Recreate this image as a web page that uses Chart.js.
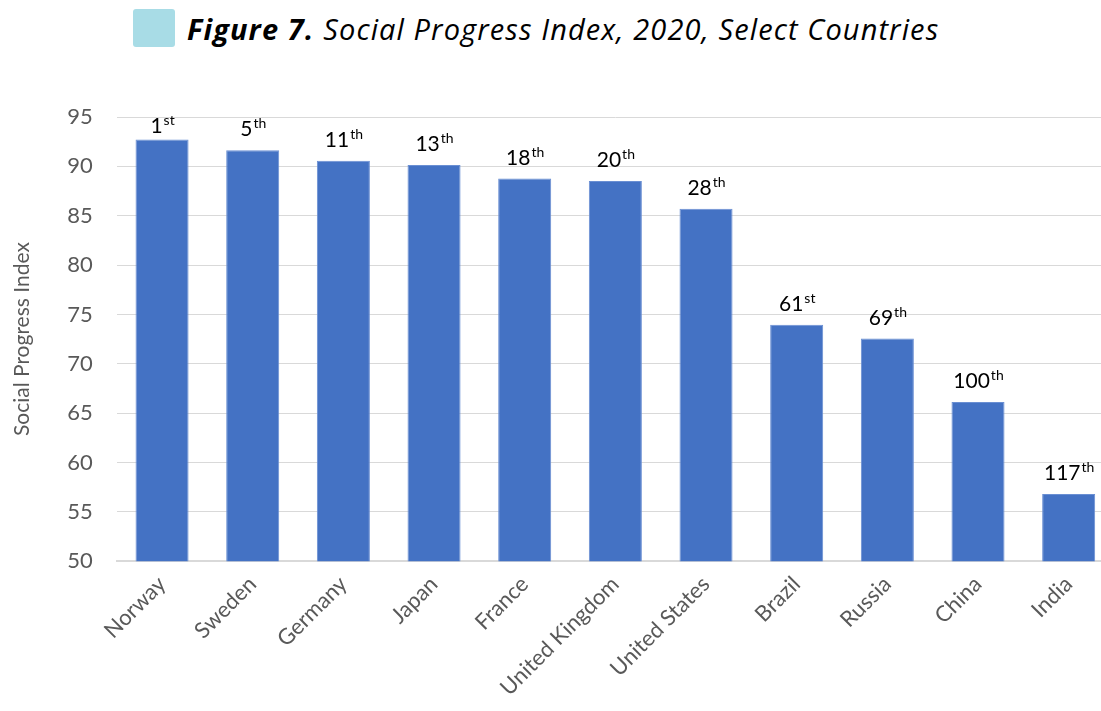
<!DOCTYPE html>
<html>
<head>
<meta charset="utf-8">
<script src="https://cdn.jsdelivr.net/npm/chart.js@4"></script>
<style>
  html, body { margin: 0; padding: 0; background: #fff; overflow: hidden; }
  #wrap { position: relative; width: 1114px; height: 711px; }
  #title { position: absolute; left: 133px; top: 9px; height: 38px; display: flex; align-items: center;
           font-family: "Open Sans", sans-serif; font-style: italic; font-size: 29px; letter-spacing: 1.1px; color: #000; white-space: nowrap; }
  #title .box { display: inline-block; width: 42px; height: 38px; background: #a8dce6; border-radius: 3px; margin-right: 12px; }
  #title b { font-weight: 700; margin-right: 9px; }
  canvas { position: absolute; left: 0; top: 0; }
</style>
</head>
<body>
<div id="wrap">
  <div id="title"><span class="box"></span><b>Figure 7.</b>Social Progress Index, 2020, Select Countries</div>
  <canvas id="spiChart" width="1114" height="711"></canvas>
</div>
<script>
//data
const countries = ['Norway', 'Sweden', 'Germany', 'Japan', 'France', 'United Kingdom', 'United States', 'Brazil', 'Russia', 'China', 'India']
const scores = [92.73, 91.62, 90.56, 90.14, 88.76, 88.52, 85.71, 73.95, 72.56, 66.12, 56.80]
const rankNumbers = ['1', '5', '11', '13', '18', '20', '28', '61', '69', '100', '117']
const rankSuffixes = ['st', 'th', 'th', 'th', 'th', 'th', 'th', 'st', 'th', 'th', 'th']
const yTicks = [50, 55, 60, 65, 70, 75, 80, 85, 90, 95]

const labelFont = 'Lato, "Open Sans", sans-serif'

//rank labels with superscript suffix
const rankLabels = {
    id: 'rankLabels',
    afterDatasetsDraw(chart) {
        const ctx = chart.ctx
        const meta = chart.getDatasetMeta(0)
        ctx.save()
        ctx.fillStyle = '#000'
        ctx.textBaseline = 'alphabetic'
        meta.data.forEach((bar, i) => {
            const num = rankNumbers[i], suf = rankSuffixes[i]
            ctx.font = '21px ' + labelFont
            const wn = ctx.measureText(num).width
            ctx.font = '14px ' + labelFont
            const ws = ctx.measureText(suf).width
            const x0 = bar.x - (wn + ws) / 2
            // keep the top label inside the chart
            const base = Math.max(bar.y - 14, 133)
            ctx.font = '21px ' + labelFont
            ctx.textAlign = 'left'
            ctx.fillText(num, x0, base)
            ctx.font = '14px ' + labelFont
            ctx.fillText(suf, x0 + wn + 1, base - 8)
        })
        ctx.restore()
    }
}

//configure chart
const config = {
    type: 'bar',
    data: {
        labels: countries,
        datasets: [{
            data: scores,
            backgroundColor: '#4472c4',
            borderColor: '#6a8fd3',
            borderWidth: 1,
            categoryPercentage: 1,
            barPercentage: 0.585
        }]
    },
    options: {
        responsive: false,
        animation: false,
        layout: { padding: { top: 117, left: 10, right: 0, bottom: 0 } },
        plugins: {
            legend: { display: false },
            tooltip: { enabled: false }
        },
        scales: {
            x: {
                grid: { display: false, drawTicks: false },
                border: { color: '#d9d9d9', width: 2 },
                ticks: {
                    color: '#595959',
                    font: { family: labelFont, size: 22 },
                    minRotation: 45,
                    maxRotation: 45,
                    padding: 10
                }
            },
            y: {
                min: 50,
                max: 95,
                afterBuildTicks: axis => { axis.ticks = yTicks.map(v => ({ value: v })) },
                grid: { color: '#d9d9d9', lineWidth: 1, drawTicks: false },
                border: { display: false },
                ticks: {
                    color: '#595959',
                    font: { family: labelFont, size: 22 },
                    padding: 24
                },
                title: {
                    display: true,
                    text: 'Social Progress Index',
                    color: '#595959',
                    font: { family: labelFont, size: 21 },
                    padding: { top: 0, bottom: 8 }
                }
            }
        }
    },
    plugins: [rankLabels]
}

//render chart
const spiChart = new Chart(document.getElementById('spiChart'), config)
</script>
</body>
</html>
